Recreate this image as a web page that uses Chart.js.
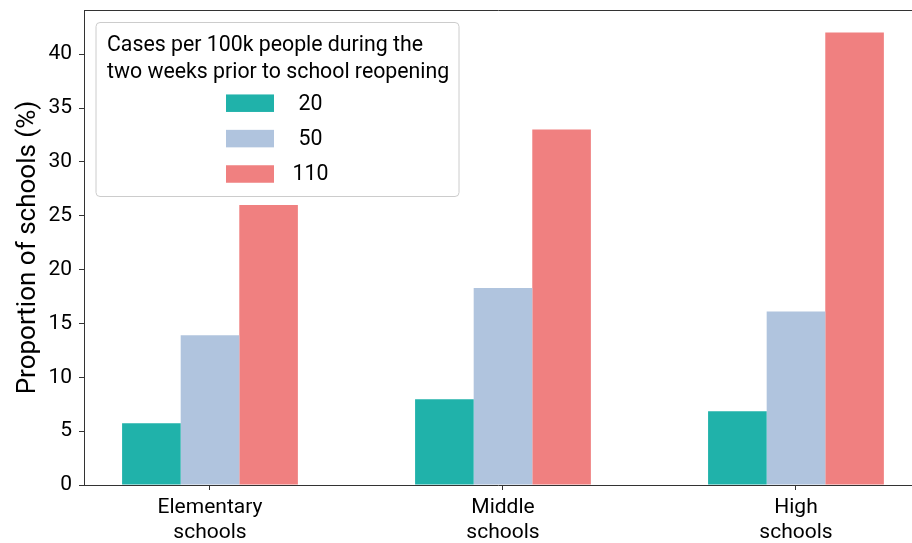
<!DOCTYPE html>
<html>
<head>
<meta charset="utf-8">
<script src="https://cdn.jsdelivr.net/npm/chart.js@4/dist/chart.umd.min.js"></script>
<style>
  body { margin: 0; background: #fff; overflow: hidden; }
  #wrap { width: 912px; height: 543px; position: relative; }
</style>
</head>
<body>
<div id="wrap"><canvas id="chart"></canvas></div>
<script>
// data
var schoolTypes = [['Elementary', 'schools'], ['Middle', 'schools'], ['High', 'schools']];
var caseLevels = ['20', '50', '110'];
var share20 = [5.73, 7.95, 6.85];
var share50 = [13.9, 18.3, 16.1];
var share110 = [26.0, 33.0, 42.0];
var yTicks = [0, 5, 10, 15, 20, 25, 30, 35, 40];
var legendTitle = ['Cases per 100k people during the', 'two weeks prior to school reopening'];

var colors = ['#20B2AA', '#B0C4DE', '#F08080'];
var font = 'Roboto';
var ink = '#000';

function points(vals) {
  return vals.map(function(v, i) { return { x: i, y: v }; });
}

// legend drawn as a framed box inside the plot, like the original
var legendBox = {
  id: 'legendBox',
  afterDatasetsDraw: function(chart) {
    var ctx = chart.ctx, area = chart.chartArea;
    var x = area.left + 12, y = area.top + 12.5, w = 363, h = 174;
    ctx.save();
    ctx.fillStyle = 'rgba(255,255,255,0.8)';
    ctx.strokeStyle = '#cccccc';
    ctx.lineWidth = 1;
    ctx.beginPath();
    ctx.roundRect(x, y, w, h, 4);
    ctx.fill();
    ctx.stroke();

    ctx.fillStyle = ink;
    ctx.font = '21.3px ' + font;
    ctx.textAlign = 'left';
    ctx.textBaseline = 'alphabetic';
    legendTitle.forEach(function(line, i) {
      ctx.fillText(line, x + 11, y + 28.7 + i * 27);
    });

    chart.data.datasets.forEach(function(ds, i) {
      var cy = y + 80.7 + i * 35.4;
      ctx.fillStyle = ds.backgroundColor;
      ctx.fillRect(x + 130, cy - 8.75, 48, 17.5);
      ctx.fillStyle = ink;
      ctx.textAlign = 'center';
      ctx.textBaseline = 'middle';
      ctx.fillText(ds.label, x + 214.5, cy + 1);
    });
    ctx.restore();
  }
};

var datasets = [share20, share50, share110].map(function(vals, i) {
  return {
    label: caseLevels[i],
    data: points(vals),
    backgroundColor: colors[i],
    borderWidth: 0,
    categoryPercentage: 0.6,
    barPercentage: 1.0
  };
});

new Chart(document.getElementById('chart'), {
  type: 'bar',
  data: { datasets: datasets },
  plugins: [legendBox],
  options: {
    responsive: true,
    maintainAspectRatio: false,
    animation: false,
    layout: { padding: { top: 10, right: 0, bottom: 0, left: 0 } },
    plugins: {
      legend: { display: false },
      tooltip: { enabled: false }
    },
    scales: {
      x: {
        type: 'linear',
        offset: false,
        min: -0.43,
        max: 2.396,
        afterFit: function(scale) {
          scale.height = 58;
          scale.paddingLeft = 0;
          scale.paddingRight = 0;
        },
        afterBuildTicks: function(scale) {
          scale.ticks = schoolTypes.map(function(c, i) { return { value: i }; });
        },
        ticks: {
          autoSkip: false,
          maxRotation: 0,
          padding: 5,
          color: ink,
          font: { family: font, size: 21, lineHeight: 1.2 },
          callback: function(v) { return schoolTypes[v]; }
        },
        grid: { display: true, offset: false, drawOnChartArea: false, drawTicks: true, tickLength: 5, color: '#333' },
        border: { display: true, color: '#333', width: 1 }
      },
      top: {
        type: 'linear',
        position: 'top',
        offset: false,
        min: -0.43,
        max: 2.396,
        afterFit: function(scale) {
          scale.height = 0;
          scale.paddingLeft = 0;
          scale.paddingRight = 0;
        },
        ticks: { display: false },
        grid: { display: false },
        border: { display: true, color: '#333', width: 1 }
      },
      y: {
        min: 0,
        max: 44.1,
        afterFit: function(scale) {
          scale.width = 84;
          scale.paddingTop = 0;
          scale.paddingBottom = 0;
        },
        afterBuildTicks: function(scale) {
          scale.ticks = yTicks.map(function(v) { return { value: v }; });
        },
        ticks: {
          padding: 7,
          color: ink,
          font: { family: font, size: 21 }
        },
        grid: { display: true, drawOnChartArea: false, drawTicks: true, tickLength: 5, color: '#333' },
        border: { display: true, color: '#333', width: 1 },
        title: {
          display: true,
          text: 'Proportion of schools (%)',
          color: ink,
          font: { family: font, size: 26 },
          padding: { top: 13, bottom: 0 }
        }
      }
    }
  }
});
</script>
</body>
</html>
